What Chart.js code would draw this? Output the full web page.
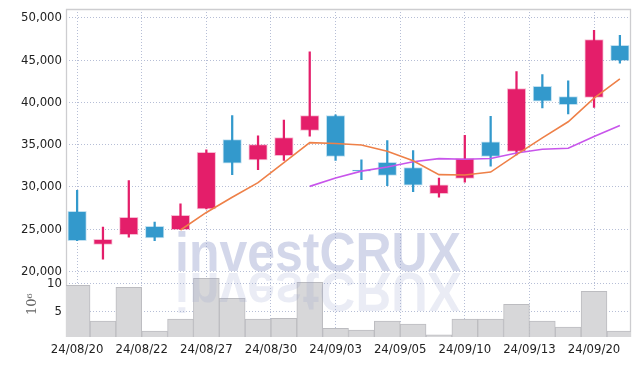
<!DOCTYPE html>
<html><head><meta charset="utf-8">
<script src="https://cdn.jsdelivr.net/npm/chart.js@4.4.1/dist/chart.umd.min.js"></script>
<style>html,body{margin:0;padding:0;background:#fff;}#wrap{width:639px;height:366px;position:relative;}</style>
</head><body><div id="wrap"><canvas id="c"></canvas></div>
<script>
const dates = ['24/08/20','24/08/21','24/08/22','24/08/23','24/08/26','24/08/27','24/08/28','24/08/29','24/08/30','24/09/02','24/09/03','24/09/04','24/09/05','24/09/06','24/09/09','24/09/10','24/09/11','24/09/12','24/09/13','24/09/19','24/09/20','24/09/23'];
const openP  = [27100,23200,24350,25350,24950,27400,35600,33200,33700,36700,38450,31980,32900,32300,29200,31000,35350,34200,41900,40700,40600,46750];
const closeP = [23650,23800,26400,23950,26650,34100,32800,35000,35850,38450,33600,31880,31350,30200,30250,33400,33600,41650,40150,39750,47450,44950];
const highP  = [29600,25250,30750,25850,28000,34400,38450,36050,37900,46000,38550,33200,35500,34300,31050,36100,38350,43650,43300,42550,48550,47950];
const lowP   = [23650,21450,24050,23650,24950,27400,31450,32050,33150,36000,33150,30850,30150,29450,28800,30550,32450,33800,39350,38650,39400,44650];
const volume = [9.7,3.2,9.35,1.4,3.55,11.0,7.35,3.55,3.7,10.25,1.9,1.55,3.2,2.65,0.7,3.55,3.55,6.25,3.2,2.1,8.6,1.4];
const ma5  = [null,null,null,null,24900,26980,28780,30500,32880,35240,35140,34960,34230,33100,31460,31420,31760,33820,35810,37710,40520,42790];
const ma10 = [null,null,null,null,null,null,null,null,null,30065,31060,31870,32365,32990,33350,33280,33360,34025,34455,34585,35970,37275];
const xTickPositions = [0,2.5,5,7.5,10,12.5,15,17.5,20];
const xTickLabels = ['24/08/20','24/08/22','24/08/27','24/08/30','24/09/03','24/09/05','24/09/10','24/09/13','24/09/20'];
const priceTicks = [20000,25000,30000,35000,40000,45000,50000];
const volumeTicks = [5,10];

const UP = 'rgb(228,30,106)', DOWN = 'rgb(51,153,204)';
const UP_EDGE = 'rgba(228,30,106,0.3)', DOWN_EDGE = 'rgba(51,153,204,0.3)';
const isUp = openP.map((o,i)=> closeP[i] >= o);
const FONT = {family:'"DejaVu Sans Condensed","Liberation Sans Narrow","DejaVu Sans",sans-serif', size:13};
const GRID = {color:'rgb(182,190,214)', lineWidth:1, drawTicks:false};

const frame = {
  id:'frame',
  beforeDatasetsDraw(chart){
    const a = chart.chartArea, c = chart.ctx;
    c.save(); c.strokeStyle = 'rgb(205,205,208)'; c.lineWidth = 1.3;
    c.beginPath();
    c.moveTo(a.left+0.5, a.bottom); c.lineTo(a.left+0.5, a.top+0.5);
    c.lineTo(a.right-0.5, a.top+0.5); c.lineTo(a.right-0.5, a.bottom);
    c.stroke(); c.restore();
  },
  afterDatasetsDraw(chart){
    const c = chart.ctx, y = chart.scales.y;
    const base = y.getPixelForValue(20000);
    c.save();
    c.font = 'bold 55px "Liberation Sans", Arial, sans-serif';
    c.textAlign = 'center'; c.textBaseline = 'alphabetic';
    c.fillStyle = 'rgba(150,160,205,0.42)';
    c.fillText('investCRUX', 318, base, 286);
    c.translate(0, 2*base + 2); c.scale(1,-1);
    c.fillStyle = 'rgba(150,160,205,0.2)';
    c.fillText('investCRUX', 318, base, 286);
    c.restore();
  }
};

new Chart(document.getElementById('c'), {
  type:'bar',
  plugins:[frame],
  data:{datasets:[
    {type:'line', label:'MA5', yAxisID:'y', data: ma5.map((v,i)=>({x:i,y:v})), borderColor:'rgb(238,128,72)', borderWidth:1.6, pointRadius:0, spanGaps:false, order:0},
    {type:'line', label:'MA10', yAxisID:'y', data: ma10.map((v,i)=>({x:i,y:v})), borderColor:'rgb(200,85,235)', borderWidth:1.6, pointRadius:0, spanGaps:false, order:1},
    {label:'body', yAxisID:'y', data: openP.map((o,i)=>({x:i,y:[o,closeP[i]]})), backgroundColor: isUp.map(u=>u?UP:DOWN), borderColor: isUp.map(u=>u?UP_EDGE:DOWN_EDGE), borderWidth:1, borderSkipped:false, barThickness:18.5, grouped:false, order:2},
    {label:'wick', yAxisID:'y', data: lowP.map((l,i)=>({x:i,y:[l,highP[i]]})), backgroundColor: isUp.map(u=>u?UP:DOWN), barThickness:1.6, grouped:false, order:3},
    {label:'volume', yAxisID:'yv', data: volume.map((v,i)=>({x:i,y:v})), backgroundColor:'rgb(215,215,217)', borderColor:'rgb(188,188,192)', borderWidth:1, barPercentage:1, categoryPercentage:1, grouped:false, clip:0, order:4}
  ]},
  options:{
    responsive:true, maintainAspectRatio:false, animation:false,
    layout:{padding:{top:9, right:8, left:0, bottom:0}},
    plugins:{legend:{display:false}, tooltip:{enabled:false}},
    scales:{
      x:{type:'linear', min:-0.43, max:21.43, offset:false,
        afterBuildTicks:s=>{ s.ticks = xTickPositions.map(v=>({value:v})); },
        afterFit:s=>{ s.height = 29; s.paddingLeft = 0; s.paddingRight = 0; },
        ticks:{callback:(v,i)=>xTickLabels[i], font:FONT, color:'#222', maxRotation:0, autoSkip:false, padding:5},
        grid:Object.assign({offset:false}, GRID), border:{display:false, dash:[1,2]}},
      yv:{type:'linear', position:'left', stack:'s', stackWeight:1, min:0.3, max:12.25,
        afterBuildTicks:s=>{ s.ticks = volumeTicks.map(v=>({value:v})); },
        afterFit:s=>{ s.width = 66; s.paddingTop = 0; s.paddingBottom = 0; },
        ticks:{font:FONT, color:'#222', padding:4},
        title:{display:true, text:'10⁶', font:{family:'"DejaVu Serif",serif', size:13}, color:'#666', padding:{top:25,bottom:0}},
        grid:GRID, border:{display:false, dash:[1,2]}},
      y:{type:'linear', position:'left', stack:'s', stackWeight:4, min:20000, max:51064,
        afterBuildTicks:s=>{ s.ticks = priceTicks.map(v=>({value:v})); },
        afterFit:s=>{ s.width = 66; s.paddingTop = 0; s.paddingBottom = 0; },
        ticks:{font:FONT, color:'#222', padding:4, callback:v=>v.toLocaleString('en-US')},
        grid:GRID, border:{display:false, dash:[1,2]}}
    }
  }
});
</script></body></html>
